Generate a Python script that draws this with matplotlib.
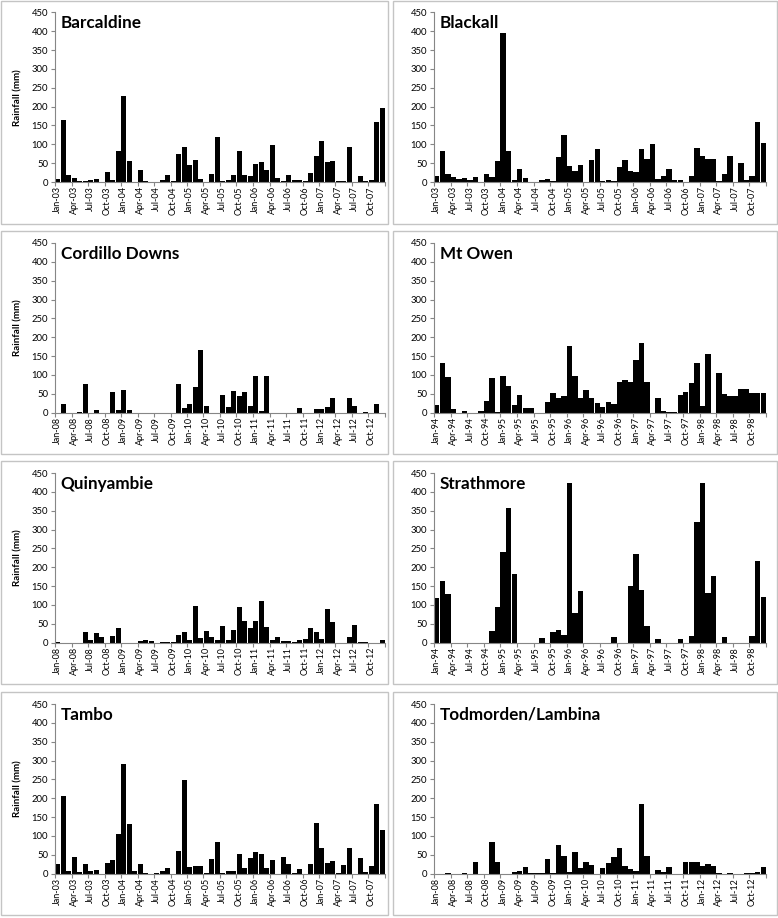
import matplotlib
matplotlib.use("Agg")
import matplotlib.pyplot as plt
from matplotlib.patches import Rectangle
import numpy as np

plt.rcParams['font.family'] = ['Lato', 'DejaVu Sans']

# ---------------- data (monthly rainfall, mm) ----------------
stations = ["Barcaldine", "Blackall", "Cordillo Downs", "Mt Owen",
            "Quinyambie", "Strathmore", "Tambo", "Todmorden/Lambina"]
start_years = [2003, 2003, 2008, 1994, 2008, 1994, 2003, 2008]

barcaldine = [8, 165, 18, 10, 2, 2, 4, 8, 0, 27, 4, 82,
              227, 55, 0, 33, 3, 0, 1, 6, 18, 2, 75, 93,
              46, 58, 8, 0, 21, 120, 2, 6, 18, 81, 18, 16,
              48, 52, 33, 98, 10, 2, 18, 4, 4, 2, 23, 70,
              108, 53, 56, 2, 2, 93, 0, 16, 2, 6, 159, 196]
blackall = [15, 83, 20, 12, 7, 10, 5, 14, 0, 20, 12, 55,
            396, 83, 4, 35, 10, 0, 0, 5, 8, 2, 65, 125,
            42, 30, 45, 0, 58, 87, 2, 6, 2, 40, 58, 30,
            27, 87, 60, 100, 8, 16, 35, 6, 6, 0, 15, 89,
            70, 62, 62, 2, 20, 68, 0, 50, 6, 15, 159, 103]
cordillo = [0, 22, 0, 0, 3, 77, 0, 7, 0, 0, 55, 7,
            59, 7, 0, 0, 0, 0, 0, 0, 0, 0, 75, 12,
            22, 67, 165, 18, 0, 0, 48, 15, 57, 45, 55, 18,
            96, 4, 97, 0, 0, 0, 0, 0, 12, 0, 0, 9,
            11, 15, 38, 0, 0, 38, 19, 0, 3, 0, 22, 0]
mt_owen = [20, 133, 94, 10, 0, 5, 0, 0, 5, 32, 91, 3,
           98, 71, 20, 48, 12, 12, 0, 0, 28, 51, 40, 44,
           176, 98, 40, 59, 38, 26, 15, 28, 22, 81, 87, 82,
           139, 186, 82, 0, 38, 5, 2, 2, 47, 55, 79, 133,
           18, 155, 0, 104, 49, 45, 45, 62, 64, 51, 53, 53]
quinyambie = [2, 0, 0, 0, 0, 28, 6, 25, 16, 0, 18, 39,
              0, 0, 0, 4, 6, 4, 0, 1, 1, 2, 20, 29,
              8, 97, 12, 31, 14, 8, 43, 8, 35, 95, 58, 39,
              57, 110, 42, 6, 16, 5, 5, 3, 6, 9, 39, 29,
              9, 89, 54, 0, 0, 14, 47, 2, 2, 0, 0, 6]
strathmore = [118, 163, 128, 0, 0, 0, 0, 0, 0, 0, 32, 94,
              240, 358, 182, 0, 0, 0, 0, 13, 0, 29, 34, 21,
              424, 79, 137, 0, 0, 0, 0, 0, 15, 0, 0, 151,
              236, 141, 44, 0, 10, 0, 0, 0, 10, 0, 19, 320,
              424, 131, 178, 0, 15, 0, 0, 0, 0, 19, 216, 120]
tambo = [26, 207, 8, 44, 4, 25, 6, 10, 0, 29, 37, 106,
         291, 131, 6, 27, 2, 0, 2, 6, 16, 0, 61, 248,
         19, 21, 21, 2, 38, 85, 2, 8, 7, 52, 16, 42,
         58, 52, 14, 37, 0, 43, 27, 2, 13, 0, 27, 135,
         69, 28, 35, 2, 23, 69, 0, 42, 4, 21, 186, 116]
todmorden = [0, 0, 2, 0, 0, 2, 0, 32, 0, 0, 83, 30,
             0, 0, 4, 8, 19, 2, 2, 2, 38, 2, 75, 48,
             4, 58, 14, 30, 23, 0, 16, 28, 45, 69, 21, 13,
             8, 185, 46, 0, 11, 4, 19, 0, 0, 32, 32, 32,
             21, 27, 21, 2, 0, 2, 0, 0, 2, 2, 5, 19]

series = [barcaldine, blackall, cordillo, mt_owen,
          quinyambie, strathmore, tambo, todmorden]

tick_months = ["Jan", "Apr", "Jul", "Oct"]
y_ticks = [0, 50, 100, 150, 200, 250, 300, 350, 400, 450]

# ---------------- layout ----------------
W, H = 778, 918
fig = plt.figure(figsize=(W / 100, H / 100), dpi=100)

axis_grey = '#868686'
col_x = [55, 434]
col_w = [330, 332]
row_top = [12.3, 243.0, 473.0, 704.0]
ax_h = 169.7
box_x = [1, 393]
box_w = [387, 384]
box_top = [1, 231, 461, 692]
box_h = 223

for i, (name, vals, y0) in enumerate(zip(stations, series, start_years)):
    r, c = divmod(i, 2)
    # panel frame
    fig.patches.append(Rectangle((box_x[c] / W, 1 - (box_top[r] + box_h) / H),
                                 box_w[c] / W, box_h / H,
                                 transform=fig.transFigure, fill=False,
                                 edgecolor='#c4c4c4', lw=1.0, zorder=0))
    ax = fig.add_axes([col_x[c] / W, 1 - (row_top[r] + ax_h) / H,
                       col_w[c] / W, ax_h / H])
    n = len(vals)
    x = np.arange(n)
    ax.bar(x, vals, width=0.97, color='black', edgecolor='none')
    ax.set_xlim(-0.5, n - 0.5)
    ax.set_ylim(0, 450)
    ax.set_yticks(y_ticks)
    ax.tick_params(axis='y', labelsize=6.8, length=3, width=0.8,
                   color=axis_grey, pad=2)
    # major ticks at category boundaries (every 3 months)
    ax.set_xticks(np.arange(-0.5, n, 3))
    ax.set_xticklabels([])
    ax.tick_params(axis='x', which='major', length=3, width=0.8,
                   color=axis_grey)
    labels = [f"{m}-{(y0 + k // 4) % 100:02d}"
              for k, m in enumerate(tick_months * (n // 12))]
    ax.set_xticks(np.arange(0, n, 3), minor=True)
    ax.set_xticklabels(labels, minor=True, rotation=90, fontsize=6.5)
    ax.tick_params(axis='x', which='minor', length=0, pad=3)
    for s in ['top', 'right']:
        ax.spines[s].set_visible(False)
    for s in ['left', 'bottom']:
        ax.spines[s].set_color(axis_grey)
        ax.spines[s].set_linewidth(0.8)
    ax.text(0.017, 0.985, name, transform=ax.transAxes, ha='left', va='top',
            fontsize=12.3, fontweight='bold')
    if c == 0:
        ax.set_ylabel("Rainfall (mm)", fontsize=7, fontweight='bold')
        ax.yaxis.set_label_coords(-0.100, 0.5)

fig.savefig("out.png", dpi=100)
